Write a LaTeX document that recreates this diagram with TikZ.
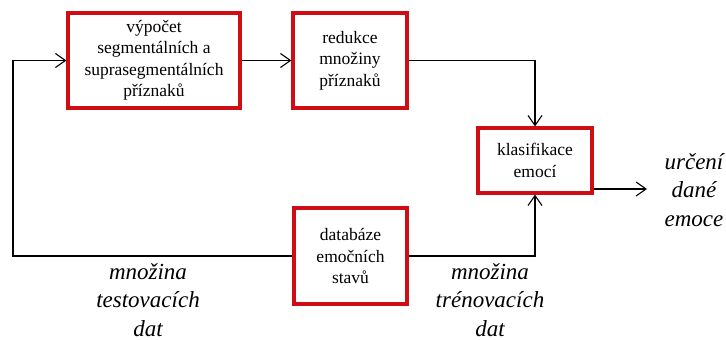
\documentclass[tikz,border=0pt]{standalone}
\usepackage{fontspec}
\setmainfont{Liberation Serif}
\usetikzlibrary{arrows.meta}
\definecolor{boxred}{RGB}{208,12,20}
\tikzset{
  blk/.style={draw=boxred, line width=3.2pt, fill=white, align=center, inner sep=0pt,
    font=\fontsize{17.5}{21.5}\selectfont},
  conn/.style={line width=1.2pt, black},
  arr/.style={conn, -{Straight Barb[length=10pt,width=14pt,line width=1.1pt]}},
  lab/.style={align=center, font=\itshape\fontsize{23}{28.5}\selectfont, inner sep=0pt}
}
\begin{document}
\begin{tikzpicture}[x=1pt,y=-1pt]
\useasboundingbox (0,0) rectangle (726,340);
\node[blk, minimum width=172pt, minimum height=95pt] (b1) at (154,60.5)
  {výpočet\\segmentálních a\\suprasegmentálních\\příznaků};
\node[blk, minimum width=114pt, minimum height=95pt] (b2) at (350,60.5)
  {redukce\\množiny\\příznaků};
\node[blk, minimum width=114pt, minimum height=65pt] (b3) at (535,160.5)
  {klasifikace\\emocí};
\node[blk, minimum width=113pt, minimum height=96pt] (b4) at (350.5,256)
  {databáze\\emočních\\stavů};
\coordinate (lx) at (13,0);
\coordinate (out) at (647,189);
\draw[arr] (b4.west) -- (b4.west -| lx) -- (b1.west -| lx) -- (b1.west);
\draw[arr] (b1.east) -- (b2.west);
\draw[arr] (b2.east) -- (b2.east -| b3.north) -- (b3.north);
\draw[arr] (b4.east) -- (b4.east -| b3.south) -- (b3.south);
\draw[arr] (b3.east |- out) -- (out);
\node[lab] (l1) at (694,190) {určení\\dané\\emoce};
\node[lab] (l2) at (148,300) {množina\\testovacích\\dat};
\node[lab] (l3) at (490,300) {množina\\trénovacích\\dat};
\end{tikzpicture}
\end{document}
